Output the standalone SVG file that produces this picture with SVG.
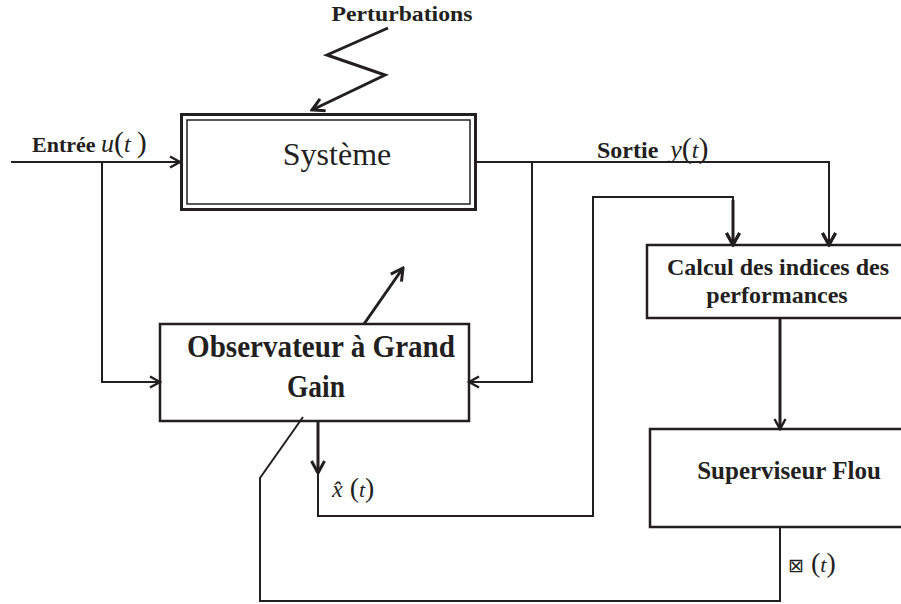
<svg xmlns="http://www.w3.org/2000/svg" width="901" height="604" viewBox="0 0 901 604">
<style>
  .ln { fill: none; stroke: #231f20; stroke-width: 2; }
  .thk { fill: none; stroke: #231f20; stroke-width: 3; }
  .box { fill: #ffffff; stroke: #231f20; stroke-width: 2.5; }
  .t { font-family: "Liberation Serif", "Times New Roman", serif; fill: #231f20; }
  .b { font-weight: bold; }
  .i { font-style: italic; }
</style>
<defs>
  <marker id="arr" viewBox="0 0 14 14" refX="12" refY="7" markerWidth="14" markerHeight="14" orient="auto" markerUnits="userSpaceOnUse">
    <path d="M2,1.5 L12,7 L2,12.5" fill="none" stroke="#231f20" stroke-width="2.5"/>
  </marker>
  <marker id="arrb" viewBox="0 0 16 16" refX="14" refY="8" markerWidth="16" markerHeight="16" orient="auto" markerUnits="userSpaceOnUse">
    <path d="M2,1.5 L14,8 L2,14.5" fill="none" stroke="#231f20" stroke-width="3"/>
  </marker>
</defs>

<g id="systeme">
  <rect x="181.5" y="114.5" width="294" height="95" fill="#ffffff" stroke="#231f20" stroke-width="3"/>
  <rect x="187" y="120" width="283" height="84" fill="none" stroke="#231f20" stroke-width="1.5"/>
  <text class="t" x="337" y="165" font-size="32" text-anchor="middle">Système</text>
</g>

<g id="observateur">
  <rect class="box" x="160" y="324" width="309" height="97"/>
  <text class="t b" x="321" y="357" font-size="32" text-anchor="middle" textLength="268" lengthAdjust="spacingAndGlyphs">Observateur à Grand</text>
  <text class="t b" x="316" y="397" font-size="32" text-anchor="middle" textLength="58" lengthAdjust="spacingAndGlyphs">Gain</text>
</g>

<g id="calcul">
  <rect class="box" x="647" y="245" width="262" height="73"/>
  <text class="t b" x="778" y="275" font-size="24" text-anchor="middle">Calcul des indices des</text>
  <text class="t b" x="777" y="303" font-size="24" text-anchor="middle">performances</text>
</g>

<g id="superviseur">
  <rect class="box" x="650" y="429" width="262" height="98"/>
  <text class="t b" x="789" y="479" font-size="25" text-anchor="middle">Superviseur Flou</text>
</g>

<g id="connectors">
  <path class="ln" d="M11,162 H180" marker-end="url(#arr)"/>
  <path class="ln" d="M102,162 V382 H160" marker-end="url(#arr)"/>
  <path class="thk" d="M388,28 L327,55 L385,75 L312,110" marker-end="url(#arrb)"/>
  <path class="ln" d="M476,162 H829 V245" marker-end="url(#arrb)"/>
  <path class="thk" d="M829,240 V245" marker-end="url(#arrb)"/>
  <path class="ln" d="M532,162 V382 H469" marker-end="url(#arr)"/>
  <path class="thk" d="M364,324 L403,268" marker-end="url(#arrb)"/>
  <path class="thk" d="M318,421 V473" marker-end="url(#arrb)"/>
  <path class="ln" d="M318,470 V516 H593 V197 H733 V245" marker-end="url(#arrb)"/>
  <path class="thk" d="M733,200 V245" marker-end="url(#arrb)"/>
  <path class="thk" d="M780,318 V429" marker-end="url(#arr)"/>
  <path class="ln" d="M780,527 V601 H260 V478 L303,417"/>
</g>

<g id="labels">
  <text class="t b" x="402" y="21" font-size="22" text-anchor="middle" textLength="141" lengthAdjust="spacingAndGlyphs">Perturbations</text>
  <text class="t" x="32" y="152" font-size="22"><tspan class="b">Entrée </tspan><tspan class="i" font-size="26">u</tspan><tspan font-size="30">(</tspan><tspan class="i" font-size="24">t </tspan><tspan font-size="30">)</tspan></text>
  <text class="t" x="597" y="158" font-size="24"><tspan class="b">Sortie</tspan><tspan class="i" font-size="26" dx="12">y</tspan><tspan font-size="30">(</tspan><tspan class="i" font-size="24">t</tspan><tspan font-size="30">)</tspan></text>
  <text class="t" x="332" y="497" font-size="24"><tspan class="i">x̂</tspan><tspan font-size="28"> (</tspan><tspan class="i" font-size="22">t</tspan><tspan font-size="28">)</tspan></text>
  <text class="t" x="788" y="572" font-size="24"><tspan font-family="DejaVu Sans, sans-serif" font-size="19">⊠</tspan><tspan font-size="28"> (</tspan><tspan class="i" font-size="22">t</tspan><tspan font-size="28">)</tspan></text>
</g>
</svg>
